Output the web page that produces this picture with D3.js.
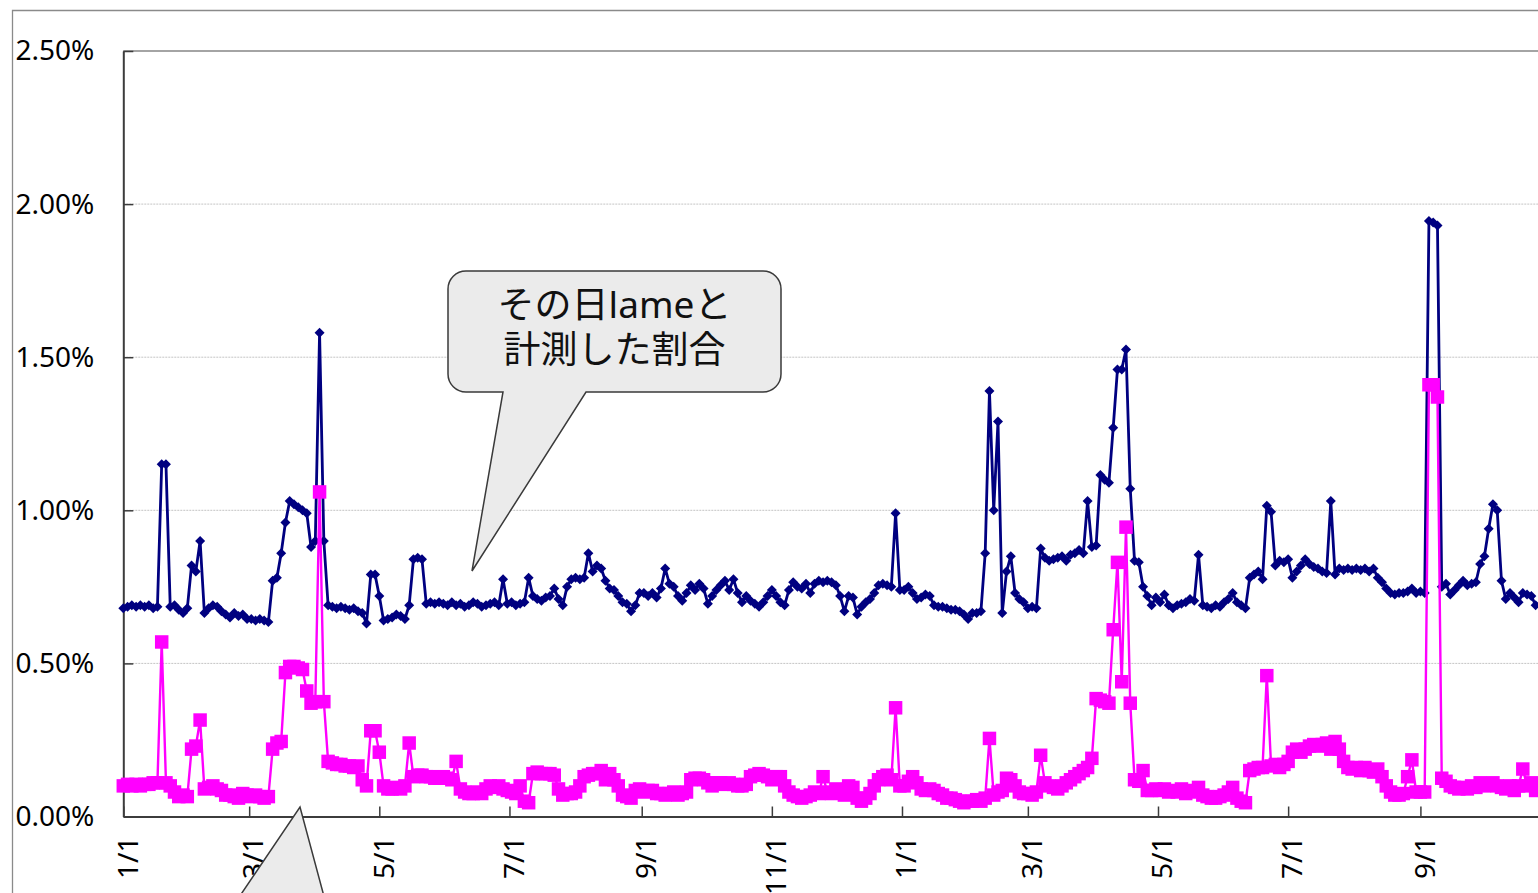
<!DOCTYPE html>
<html>
<head>
<meta charset="utf-8">
<script src="https://cdn.jsdelivr.net/npm/d3@7"></script>
<style>
body { margin:0; background:#fff; }
svg { display:block; }
</style>
</head>
<body>
<div id="chart"></div>
<script>
// one reading every 2 days, starting 2009-01-01 (values in %)
var startDate = Date.UTC(2009, 0, 1);
var stepDays = 2;

var navy2009 = [
  0.68,0.685,0.69,0.685,0.69,0.685,0.69,0.68,0.685,1.15,1.15,0.685,0.69,0.675,0.665,0.68,     // jan
  0.82,0.80,0.90,0.665,0.68,0.69,0.685,0.67,0.66,0.65,0.665,0.655,0.66,0.645,                 // feb
  0.645,0.64,0.645,0.64,0.635,0.77,0.78,0.86,0.96,1.03,1.02,1.01,1.0,0.99,0.88,               // mar
  0.90,1.58,0.90,0.69,0.685,0.68,0.685,0.68,0.675,0.68,0.67,0.665,0.63,0.79,0.79,             // apr
  0.72,0.64,0.645,0.65,0.66,0.655,0.645,0.69,0.84,0.845,0.84,0.695,0.70,0.695,0.70,0.695,     // may
  0.69,0.70,0.69,0.695,0.685,0.69,0.70,0.695,0.685,0.69,0.695,0.70,0.69,0.775,0.695,          // jun
  0.70,0.69,0.695,0.70,0.78,0.72,0.71,0.705,0.715,0.72,0.745,0.71,0.69,0.75,0.775,            // jul
  0.78,0.775,0.78,0.86,0.80,0.82,0.81,0.77,0.745,0.74,0.72,0.70,0.695,0.67,0.69,0.73,         // aug
  0.73,0.72,0.73,0.715,0.745,0.81,0.76,0.75,0.72,0.705,0.73,0.755,0.74,0.76,0.745,            // sep
  0.695,0.72,0.74,0.755,0.77,0.74,0.775,0.73,0.70,0.72,0.705,0.695,0.685,0.70,0.72,           // oct
  0.74,0.72,0.70,0.69,0.74,0.765,0.75,0.745,0.76,0.73,0.76,0.77,0.765,0.77,0.765,             // nov
  0.755,0.72,0.67,0.72,0.715,0.66,0.685,0.70,0.71,0.73,0.755,0.76,0.755,0.75,0.99,0.74        // dec
];
var navy2010 = [
  0.74,0.75,0.73,0.71,0.715,0.725,0.72,0.69,0.685,0.685,0.68,0.675,0.675,0.67,0.66,           // jan
  0.645,0.665,0.665,0.67,0.86,1.39,1.0,1.29,0.665,0.80,0.85,0.73,0.71,0.70,                   // feb
  0.68,0.685,0.68,0.875,0.845,0.835,0.84,0.845,0.85,0.835,0.855,0.86,0.87,0.86,1.03,0.88,     // mar
  0.885,1.115,1.10,1.09,1.27,1.46,1.46,1.525,1.07,0.835,0.83,0.75,0.72,0.69,0.715,            // apr
  0.70,0.725,0.69,0.68,0.69,0.695,0.70,0.71,0.705,0.855,0.69,0.685,0.68,0.69,0.685,           // may
  0.70,0.71,0.73,0.70,0.69,0.68,0.78,0.79,0.80,0.775,1.015,0.995,0.82,0.835,0.83,             // jun
  0.84,0.78,0.80,0.82,0.84,0.825,0.815,0.81,0.80,0.795,1.03,0.79,0.81,0.805,0.81,0.805,       // jul
  0.81,0.805,0.81,0.80,0.81,0.78,0.765,0.745,0.73,0.725,0.73,0.73,0.735,0.745,0.73,           // aug
  0.735,0.73,1.945,1.94,1.93,0.75,0.76,0.725,0.74,0.755,0.77,0.755,0.76,0.765,0.825,          // sep
  0.85,0.94,1.02,1.0,0.77,0.71,0.73,0.715,0.70,0.73,0.725,0.72,0.69                           // oct
];

var pink2009 = [
  0.10,0.105,0.10,0.105,0.10,0.105,0.105,0.11,0.11,0.57,0.11,0.10,0.08,0.065,0.07,0.065,
  0.22,0.23,0.315,0.09,0.095,0.10,0.09,0.085,0.07,0.07,0.065,0.06,0.075,0.07,
  0.065,0.07,0.065,0.06,0.065,0.22,0.24,0.245,0.47,0.49,0.49,0.485,0.48,0.41,0.37,
  0.375,1.06,0.375,0.18,0.175,0.17,0.17,0.165,0.165,0.16,0.165,0.12,0.10,0.28,0.28,
  0.21,0.10,0.09,0.09,0.095,0.09,0.10,0.24,0.13,0.135,0.135,0.13,0.13,0.125,0.125,0.13,
  0.125,0.12,0.18,0.09,0.08,0.075,0.075,0.08,0.075,0.09,0.10,0.095,0.10,0.09,0.085,
  0.08,0.075,0.10,0.05,0.045,0.14,0.145,0.14,0.14,0.14,0.135,0.09,0.07,0.075,0.075,
  0.08,0.10,0.13,0.135,0.14,0.14,0.15,0.12,0.14,0.12,0.10,0.07,0.065,0.06,0.085,0.09,
  0.08,0.085,0.085,0.075,0.075,0.07,0.075,0.08,0.07,0.075,0.08,0.12,0.125,0.125,0.12,
  0.11,0.10,0.11,0.11,0.105,0.11,0.105,0.10,0.10,0.105,0.13,0.135,0.14,0.135,0.13,
  0.12,0.13,0.13,0.10,0.08,0.07,0.065,0.06,0.065,0.07,0.08,0.075,0.13,0.08,0.075,
  0.09,0.085,0.07,0.10,0.095,0.06,0.05,0.06,0.075,0.10,0.12,0.13,0.135,0.12,0.355,0.10
];
var pink2010 = [
  0.10,0.115,0.13,0.11,0.09,0.085,0.09,0.085,0.075,0.07,0.06,0.06,0.055,0.05,0.045,
  0.05,0.05,0.055,0.05,0.06,0.255,0.07,0.08,0.085,0.125,0.12,0.10,0.08,0.075,
  0.075,0.07,0.08,0.20,0.11,0.10,0.095,0.09,0.10,0.11,0.12,0.13,0.14,0.15,0.16,0.19,
  0.385,0.38,0.375,0.37,0.61,0.83,0.44,0.945,0.37,0.12,0.115,0.15,0.085,0.085,0.09,
  0.085,0.09,0.08,0.085,0.08,0.09,0.075,0.08,0.085,0.095,0.07,0.065,0.06,0.06,0.065,
  0.07,0.08,0.095,0.06,0.05,0.045,0.15,0.155,0.16,0.16,0.46,0.165,0.17,0.16,0.17,
  0.18,0.21,0.22,0.21,0.22,0.23,0.235,0.23,0.235,0.24,0.22,0.245,0.22,0.18,0.16,0.155,
  0.16,0.15,0.16,0.15,0.145,0.155,0.13,0.10,0.08,0.07,0.07,0.075,0.13,0.185,0.08,
  0.08,0.08,1.41,1.41,1.37,0.125,0.115,0.10,0.095,0.09,0.095,0.09,0.10,0.095,0.11,
  0.10,0.105,0.11,0.10,0.095,0.09,0.10,0.085,0.10,0.155,0.10,0.11,0.085
];

var yTicks = [0, 0.5, 1.0, 1.5, 2.0, 2.5];
var xTickDates = ["2009-01-01","2009-03-01","2009-05-01","2009-07-01","2009-09-01","2009-11-01",
                  "2010-01-01","2010-03-01","2010-05-01","2010-07-01","2010-09-01"];
var calloutLines = ["その日lameと", "計測した割合"];

var W = 1538, H = 893;
var navyColor = "#000080", pinkColor = "#ff00ff";

function toSeries(values){
    return values.map(function(v, i){
        return {date: new Date(startDate + i*stepDays*86400000), value: v};
    });
}

var navy = toSeries(navy2009.concat(navy2010));
var pink = toSeries(pink2009.concat(pink2010));

var svg = d3.select("#chart").append("svg").attr("width", W).attr("height", H)
    .style("font-family", "'Noto Sans', sans-serif");

// chart area border (only top/left visible in the crop)
svg.append("path").attr("d", "M12.5," + H + "V10.5H" + W)
    .attr("fill", "none").attr("stroke", "#8a8a8a").attr("stroke-width", 1.3);

var x = d3.scaleUtc()
    .domain([Date.UTC(2009,0,1), Date.UTC(2010,10,1)])
    .range([123.3, 123.3 + 669*2.1334]);
var y = d3.scaleLinear().domain([0, 2.5]).range([816.5, 51]);

// gridlines
svg.append("g").selectAll("line").data(yTicks.filter(function(d){ return d > 0 && d < 2.5; }))
    .enter().append("line")
    .attr("x1", x.range()[0]).attr("x2", x.range()[1])
    .attr("y1", function(d){ return y(d); }).attr("y2", function(d){ return y(d); })
    .attr("stroke", "#c4c4c4").attr("stroke-width", 1).attr("stroke-dasharray", "2,1");

// plot area top border
svg.append("line").attr("x1", x.range()[0]).attr("x2", x.range()[1])
    .attr("y1", y(2.5)).attr("y2", y(2.5))
    .attr("stroke", "#868686").attr("stroke-width", 1.5);

// y axis
var yAxis = svg.append("g").attr("transform", "translate(" + x.range()[0] + ",0)")
    .call(d3.axisLeft(y).tickValues(yTicks).tickSize(-10).tickSizeOuter(0).tickPadding(29)
        .tickFormat(function(d){ return d.toFixed(2) + "%"; }));
yAxis.select(".domain").attr("stroke", "#3c3c3c").attr("stroke-width", 2);
yAxis.selectAll(".tick line").attr("stroke", "#3c3c3c").attr("stroke-width", 1.5);
yAxis.selectAll("text").attr("fill", "#000").style("font-size", "28px")
    .style("font-family", "'Noto Sans', sans-serif");

// x axis
var xAxis = svg.append("g").attr("transform", "translate(0," + y(0) + ")")
    .call(d3.axisBottom(x).tickValues(xTickDates.map(function(s){ return new Date(s + "T00:00:00Z"); }))
        .tickSize(-10).tickSizeOuter(0).tickFormat(d3.utcFormat("%-m/%-d")));
xAxis.select(".domain").attr("stroke", "#3c3c3c").attr("stroke-width", 2);
xAxis.selectAll(".tick line").attr("stroke", "#3c3c3c").attr("stroke-width", 1.5);
xAxis.selectAll("text")
    .attr("x", -20).attr("y", 4).attr("dy", "0.35em")
    .attr("transform", "rotate(-90)")
    .style("text-anchor", "end")
    .attr("fill", "#000").style("font-size", "28px")
    .style("font-family", "'Noto Sans', sans-serif");

var line = d3.line()
    .x(function(d){ return x(d.date); })
    .y(function(d){ return y(d.value); });

// navy series with diamonds
svg.append("path").datum(navy).attr("d", line)
    .attr("fill", "none").attr("stroke", navyColor).attr("stroke-width", 2.8)
    .attr("stroke-linejoin", "round");
svg.append("g").selectAll("path").data(navy).enter().append("path")
    .attr("d", d3.symbol().type(d3.symbolSquare).size(50))
    .attr("transform", function(d){ return "translate(" + x(d.date) + "," + y(d.value) + ") rotate(45)"; })
    .attr("fill", navyColor);

// magenta series with squares
svg.append("path").datum(pink).attr("d", line)
    .attr("fill", "none").attr("stroke", pinkColor).attr("stroke-width", 2.4)
    .attr("stroke-linejoin", "round");
svg.append("g").selectAll("path").data(pink).enter().append("path")
    .attr("d", d3.symbol().type(d3.symbolSquare).size(182))
    .attr("transform", function(d){ return "translate(" + x(d.date) + "," + y(d.value) + ")"; })
    .attr("fill", pinkColor);

// callout balloon
var bx0 = 448, bx1 = 781, by0 = 271, by1 = 392, r = 18;
var balloon = d3.path();
balloon.moveTo(bx0 + r, by0);
balloon.lineTo(bx1 - r, by0);
balloon.arcTo(bx1, by0, bx1, by0 + r, r);
balloon.lineTo(bx1, by1 - r);
balloon.arcTo(bx1, by1, bx1 - r, by1, r);
balloon.lineTo(586, by1);
balloon.lineTo(472, 571);
balloon.lineTo(503, by1);
balloon.lineTo(bx0 + r, by1);
balloon.arcTo(bx0, by1, bx0, by1 - r, r);
balloon.lineTo(bx0, by0 + r);
balloon.arcTo(bx0, by0, bx0 + r, by0, r);
balloon.closePath();
svg.append("path").attr("d", balloon.toString())
    .attr("fill", "#ebebeb").attr("stroke", "#3a3a3a").attr("stroke-width", 1.5);

svg.append("g").selectAll("text").data(calloutLines).enter().append("text")
    .attr("x", (bx0 + bx1)/2).attr("y", function(d, i){ return 318 + i*45; })
    .attr("text-anchor", "middle")
    .style("font-family", "'Noto Sans', 'Noto Sans CJK JP', sans-serif")
    .style("font-size", "37px").attr("fill", "#111")
    .text(function(d){ return d; });

// tail of a second balloon that sits below the visible area
svg.append("path").attr("d", "M227,915L300,807L329,915Z")
    .attr("fill", "#ebebeb").attr("stroke", "#3a3a3a").attr("stroke-width", 1.5);
</script>
</body>
</html>
